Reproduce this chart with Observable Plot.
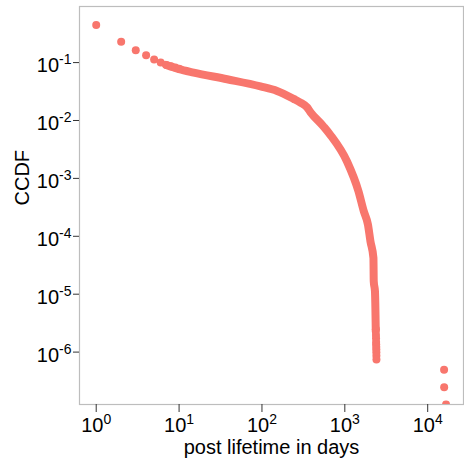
<!DOCTYPE html>
<html><head><meta charset="utf-8">
<script src="https://cdn.jsdelivr.net/npm/d3@7"></script>
<script src="https://cdn.jsdelivr.net/npm/@observablehq/plot@0.6"></script>
<style>
body{margin:0;background:#fff;}
#chart svg{display:block;}
</style>
</head><body><div id="chart"></div>
<script>
// individual head points (days, CCDF)
const headDays = [1, 2, 3, 4, 5, 6, 7, 8, 9, 10];
const headCCDF = [0.444, 0.230, 0.164, 0.134, 0.113, 0.100, 0.091, 0.086, 0.082, 0.078];
// dense body of the distribution (read along the band)
const bodyDays = [7, 10, 15, 38, 96, 152, 241, 291, 351, 384, 556, 670, 1066, 1459, 1692, 1900, 2038, 2214, 2233, 2310, 2363];
const bodyCCDF = [0.091, 0.0769, 0.0671, 0.0516, 0.0388, 0.0324, 0.0236, 0.0204, 0.0168, 0.0140, 0.00781, 0.00561, 0.00194, 6.03e-4, 2.72e-4, 1.6e-4, 8.2e-5, 4.23e-5, 1.67e-5, 1.12e-5, 2.28e-6];
// separated dots at the foot of the curve
const footDays = [2370, 2375, 2380, 2385, 2390, 2395, 2398, 2401, 2404, 2408];
const footCCDF = [2.48e-6, 1.98e-6, 1.74e-6, 1.49e-6, 1.36e-6, 1.24e-6, 1.12e-6, 9.92e-7, 8.68e-7, 7.44e-7];
// far outliers
const tailDays = [15770, 15800, 16650];
const tailCCDF = [4.96e-7, 2.48e-7, 1.24e-7];

const xTicks = [1, 10, 100, 1000, 10000];
const yTicks = [1e-1, 1e-2, 1e-3, 1e-4, 1e-5, 1e-6];
const xTitle = "post lifetime in days";
const yTitle = "CCDF";

const col = "#F8766D";
const pts = (xs, ys) => xs.map((d, i) => ({days: d, ccdf: ys[i]}));
const head = pts(headDays, headCCDF);
const body = pts(bodyDays, bodyCCDF);
const foot = pts(footDays, footCCDF);
const tail = pts(tailDays, tailCCDF);
const fmt = v => "10^" + Math.round(Math.log10(v));

const chart = Plot.plot({
  width: 464, height: 462,
  marginLeft: 79, marginRight: 1, marginTop: 6, marginBottom: 58,
  style: {fontFamily: "'Liberation Sans', Arial, sans-serif", fontSize: "20px", color: "#000", background: "#fff"},
  x: {type: "log", domain: [0.6285, 27040], ticks: xTicks, tickFormat: fmt, label: null},
  y: {type: "log", domain: [1.245e-7, 0.93], ticks: yTicks, tickFormat: fmt, label: null},
  marks: [
    Plot.frame({stroke: "#bdbdbd", strokeWidth: 1.2}),
    Plot.axisX({ticks: xTicks, tickFormat: fmt, tickSize: 8, tickPadding: 5, label: null, stroke: "#333", fontSize: 20}),
    Plot.axisY({ticks: yTicks, tickFormat: fmt, tickSize: 6, tickPadding: 2, label: null, stroke: "#333", fontSize: 20}),
    Plot.line(body, {x: "days", y: "ccdf", stroke: col, strokeWidth: 8, strokeLinecap: "round", strokeLinejoin: "round", curve: "monotone-x"}),
    Plot.dot(head, {x: "days", y: "ccdf", r: 4, fill: col}),
    Plot.dot(foot, {x: "days", y: "ccdf", r: 4, fill: col}),
    Plot.dot(tail, {x: "days", y: "ccdf", r: 4, fill: col, clip: true}),
    Plot.text([xTitle], {frameAnchor: "bottom", dy: 43, fontSize: 20, lineAnchor: "middle", fill: "#000"}),
    Plot.text([yTitle], {frameAnchor: "left", dx: -57, rotate: -90, fontSize: 20, fill: "#000"})
  ]
});

const NS = "http://www.w3.org/2000/svg";
function superscript(sel, baseDy, supDy) {
  chart.querySelectorAll(sel + " text").forEach(t => {
    const s = t.textContent;
    if (!s.includes("^")) return;
    const [b, e] = s.split("^");
    t.textContent = "";
    const t1 = document.createElementNS(NS, "tspan");
    t1.textContent = b;
    t1.setAttribute("dy", baseDy);
    const t2 = document.createElementNS(NS, "tspan");
    t2.textContent = e;
    t2.setAttribute("font-size", "14");
    t2.setAttribute("dy", supDy);
    t.appendChild(t1); t.appendChild(t2);
  });
}
superscript('g[aria-label="x-axis tick label"]', 0, -8);
superscript('g[aria-label="y-axis tick label"]', 3, -8);
document.getElementById("chart").appendChild(chart);
</script>
</body></html>
